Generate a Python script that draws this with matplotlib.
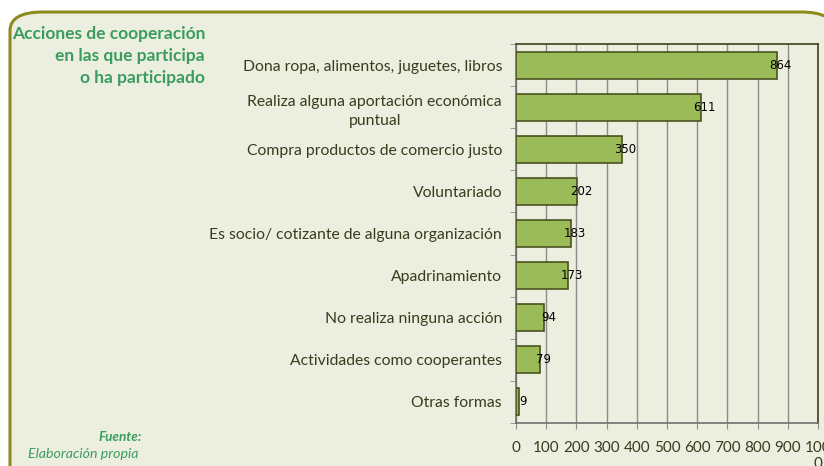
import matplotlib.pyplot as plt
from matplotlib.patches import FancyBboxPatch
import numpy as np

# Data
categories = [
    "Dona ropa, alimentos, juguetes, libros",
    "Realiza alguna aportación económica\npuntual",
    "Compra productos de comercio justo",
    "Voluntariado",
    "Es socio/ cotizante de alguna organización",
    "Apadrinamiento",
    "No realiza ninguna acción",
    "Actividades como cooperantes",
    "Otras formas",
]
values = [864, 611, 350, 202, 183, 173, 94, 79, 9]
xticks = list(range(0, 1001, 100))
xtick_labels = [str(t) for t in xticks[:-1]] + ["100\n0"]

bg = "#ECEEDF"
green_title = "#3A9C5E"
text_col = "#3B3B1E"
bar_col = "#9BBB59"
edge_col = "#4A5220"

plt.rcParams['font.family'] = ['Lato', 'DejaVu Sans']

fig = plt.figure(figsize=(8.24, 4.66), dpi=100, facecolor="white")

# rounded frame behind everything
frame = FancyBboxPatch((10 / 824, -0.1), 1.0, 1.1 - 12 / 466,
                       boxstyle="round,pad=0,rounding_size=0.04",
                       transform=fig.transFigure, facecolor=bg,
                       edgecolor="#8C8C1E", linewidth=2.2, zorder=-10)
fig.patches.append(frame)

ax = fig.add_axes([516 / 824, 43 / 466, 302 / 824, 379 / 466])
ax.set_facecolor(bg)
ax.set_zorder(1)

y = np.arange(len(categories))
ax.barh(y, values, height=0.64, color=bar_col, edgecolor=edge_col,
        linewidth=1.2, zorder=3)

for yi, v in zip(y, values):
    ax.annotate(str(v), (v, yi), xytext=(4, 0), textcoords="offset pixels",
                ha="center", va="center", fontsize=8.5,
                family="DejaVu Sans", color="black", zorder=4)

ax.set_xlim(0, 1000)
ax.set_ylim(len(categories) - 0.5, -0.5)
ax.set_xticks(xticks)
ax.set_xticklabels(xtick_labels, fontsize=11, color=text_col, linespacing=1.2)
ax.set_yticks(y)
ax.set_yticklabels(categories, fontsize=11.3, color=text_col, ha="right",
                   multialignment="center", linespacing=1.5)
ax.tick_params(axis="y", length=0, pad=10)
ax.set_yticks(np.arange(-0.5, len(categories), 1), minor=True)
ax.tick_params(axis="y", which="minor", length=4, color="#8C8C8C")
ax.tick_params(axis="x", length=4, color="#8C8C8C", pad=9)

ax.grid(axis="x", color="#8C8C8C", linewidth=1, zorder=0)
ax.set_axisbelow(True)

ax.spines["left"].set_color("#6E6E6E")
ax.spines["bottom"].set_color("#6E6E6E")
ax.spines["top"].set_color("#3F3F1A")
ax.spines["right"].set_color("#3F3F1A")
for s in ax.spines.values():
    s.set_linewidth(1.2)

# title and source
fig.text(205 / 824, 1 - 26 / 466,
         "Acciones de cooperación\nen las que participa\no ha participado",
         ha="right", va="top", fontsize=12.5, fontweight="bold",
         color=green_title, linespacing=1.45, multialignment="right")
fig.text(142 / 824, 1 - 437 / 466, "Fuente:", ha="right", va="center",
         fontsize=9.7, fontweight="bold", style="italic", color=green_title)
fig.text(28 / 824, 1 - 454 / 466, "Elaboración propia", ha="left",
         va="center", fontsize=10.2, style="italic", color=green_title)

fig.savefig("out.png", dpi=100, facecolor=fig.get_facecolor())
